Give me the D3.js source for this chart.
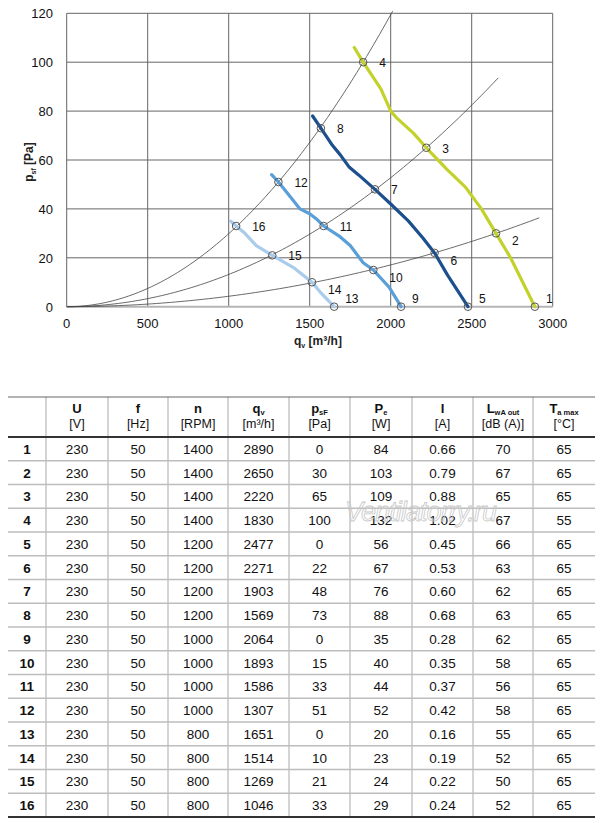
<!DOCTYPE html>
<html>
<head>
<meta charset="utf-8">
<script src="https://cdn.jsdelivr.net/npm/d3@7"></script>
<style>
  body { margin: 0; background: #fff; }
  svg { display: block; font-family: "Liberation Sans", Arial, sans-serif; }
</style>
</head>
<body>
<svg id="chart" width="600" height="823"></svg>
<script>
// operating points (table rows)
const pointNo = [1, 2, 3, 4, 5, 6, 7, 8, 9, 10, 11, 12, 13, 14, 15, 16];
const voltage = [230, 230, 230, 230, 230, 230, 230, 230, 230, 230, 230, 230, 230, 230, 230, 230];
const freq = [50, 50, 50, 50, 50, 50, 50, 50, 50, 50, 50, 50, 50, 50, 50, 50];
const rpm = [1400, 1400, 1400, 1400, 1200, 1200, 1200, 1200, 1000, 1000, 1000, 1000, 800, 800, 800, 800];
const airflow = [2890, 2650, 2220, 1830, 2477, 2271, 1903, 1569, 2064, 1893, 1586, 1307, 1651, 1514, 1269, 1046];
const pressure = [0, 30, 65, 100, 0, 22, 48, 73, 0, 15, 33, 51, 0, 10, 21, 33];
const power = [84, 103, 109, 132, 56, 67, 76, 88, 35, 40, 44, 52, 20, 23, 24, 29];
const current = ["0.66", "0.79", "0.88", "1.02", "0.45", "0.53", "0.60", "0.68", "0.28", "0.35", "0.37", "0.42", "0.16", "0.19", "0.22", "0.24"];
const noise = [70, 67, 65, 67, 66, 63, 62, 63, 62, 58, 56, 58, 55, 52, 50, 52];
const tempMax = [65, 65, 65, 55, 65, 65, 65, 65, 65, 65, 65, 65, 65, 65, 65, 65];

// fan curves [q, p]
const curve1400 = [[1775, 106], [1830, 100], [1940, 89], [2000, 80], [2040, 77], [2140, 71], [2220, 65], [2350, 56], [2460, 49], [2560, 40], [2650, 30], [2740, 20], [2890, 0]];
const curve1200 = [[1518, 78], [1569, 73], [1640, 66], [1690, 62], [1745, 57], [1800, 54], [1903, 48], [2000, 42], [2110, 35], [2200, 28], [2271, 22], [2350, 13], [2477, 0]];
const curve1000 = [[1265, 54], [1307, 51], [1380, 45], [1440, 40], [1500, 38], [1540, 36], [1586, 33], [1680, 29], [1750, 25], [1830, 18], [1893, 15], [1990, 8], [2064, 0]];
const curve800 = [[1012, 35], [1046, 33], [1100, 30], [1170, 25], [1269, 21], [1320, 19], [1400, 16], [1514, 10], [1565, 6], [1651, 0]];

// system curves p = k*q^2, with the q where each line stops
const systemK = [100 / 1830 / 1830, 65 / 2220 / 2220, 30 / 2650 / 2650];
const systemEnd = [2012, 2664, 2917];

const xTicks = [0, 500, 1000, 1500, 2000, 2500, 3000];
const yTicks = [0, 20, 40, 60, 80, 100, 120];

const svg = d3.select("#chart");
const x = d3.scaleLinear().domain([0, 3000]).range([66.7, 552.7]);
const y = d3.scaleLinear().domain([0, 120]).range([306.7, 13.3]);

// grid
svg.append("g").selectAll("line").data(xTicks).enter().append("line")
  .attr("x1", d => x(d)).attr("x2", d => x(d))
  .attr("y1", y(120)).attr("y2", y(0))
  .attr("stroke", "#666").attr("stroke-width", 1);
svg.append("g").selectAll("line").data(yTicks.filter(d => d > 0)).enter().append("line")
  .attr("x1", x(0)).attr("x2", x(3000))
  .attr("y1", d => y(d)).attr("y2", d => y(d))
  .attr("stroke", "#666").attr("stroke-width", 1);
svg.append("line")
  .attr("x1", x(0)).attr("x2", x(3000)).attr("y1", y(0)).attr("y2", y(0))
  .attr("stroke", "#b5b5b5").attr("stroke-width", 2);

// tick labels
svg.append("g").selectAll("text").data(xTicks).enter().append("text")
  .attr("x", d => x(d)).attr("y", 328)
  .attr("text-anchor", "middle").attr("font-size", 13).attr("fill", "#111")
  .text(d => d);
svg.append("g").selectAll("text").data(yTicks).enter().append("text")
  .attr("x", 53).attr("y", d => y(d) + 5)
  .attr("text-anchor", "end").attr("font-size", 13).attr("fill", "#111")
  .text(d => d);

// axis titles
const xt = svg.append("text").attr("x", 294).attr("y", 345)
  .attr("font-size", 12).attr("font-weight", "bold").attr("fill", "#222");
xt.append("tspan").text("q");
xt.append("tspan").attr("font-size", 7).attr("dy", 3).text("v");
xt.append("tspan").attr("dy", -3).text(" [m³/h]");

const yt = svg.append("text").attr("transform", "translate(33,162) rotate(-90)")
  .attr("text-anchor", "middle")
  .attr("font-size", 12).attr("font-weight", "bold").attr("fill", "#222");
yt.append("tspan").text("p");
yt.append("tspan").attr("font-size", 7).attr("dy", 3).text("sf");
yt.append("tspan").attr("dy", -3).text(" [Pa]");

// system curves
systemK.forEach((k, i) => {
  const pts = d3.range(0, 101).map(j => {
    const q = systemEnd[i] * j / 100;
    return [q, k * q * q];
  });
  svg.append("path")
    .attr("d", d3.line().x(d => x(d[0])).y(d => y(d[1]))(pts))
    .attr("fill", "none").attr("stroke", "#444").attr("stroke-width", 0.8);
});

// fan curves
const fanCurves = [
  { pts: curve1400, color: "#c3d22b" },
  { pts: curve1200, color: "#1b4f8e" },
  { pts: curve1000, color: "#5b9fd8" },
  { pts: curve800, color: "#a9cbec" }
];
const line = d3.line().x(d => x(d[0])).y(d => y(d[1])).curve(d3.curveLinear);
fanCurves.forEach(c => {
  svg.append("path").attr("d", line(c.pts))
    .attr("fill", "none").attr("stroke", c.color)
    .attr("stroke-width", 3.2).attr("stroke-linejoin", "round").attr("stroke-linecap", "round");
});

// operating point markers and labels
svg.append("g").selectAll("circle").data(pointNo).enter().append("circle")
  .attr("cx", (d, i) => x(airflow[i])).attr("cy", (d, i) => y(pressure[i]))
  .attr("r", 3.8).attr("fill", "none").attr("stroke", "#555").attr("stroke-width", 1);
svg.append("g").selectAll("text").data(pointNo).enter().append("text")
  .attr("x", (d, i) => x(airflow[i]) + (pressure[i] === 0 ? 11 : 16))
  .attr("y", (d, i) => y(pressure[i]) + (pressure[i] === 0 ? -4 : (i % 4 === 1 ? 12 : 5)))
  .attr("font-size", 12).attr("fill", "#111")
  .text(d => d);

// table
const colEdges = [8, 46, 108, 168, 228, 289, 350, 412, 473, 533, 595];
const tableTop = 397, headBottom = 437, rowH = 23.75;
const headers = [
  [["", ""]],
  [["U", ""]], [["f", ""]], [["n", ""]], [["q", "v"]], [["p", "sF"]],
  [["P", "e"]], [["I", ""]], [["L", "wA out"]], [["T", "a max"]]
];
const units = ["", "[V]", "[Hz]", "[RPM]", "[m³/h]", "[Pa]", "[W]", "[A]", "[dB (A)]", "[°C]"];
const columns = [pointNo, voltage, freq, rpm, airflow, pressure, power, current, noise, tempMax];
const tableBottom = headBottom + rowH * pointNo.length;

const tg = svg.append("g");
// row separators
pointNo.slice(0, -1).forEach((d, i) => {
  tg.append("line").attr("x1", colEdges[0]).attr("x2", colEdges[10])
    .attr("y1", headBottom + rowH * (i + 1)).attr("y2", headBottom + rowH * (i + 1))
    .attr("stroke", "#bdbdbd").attr("stroke-width", 1.3);
});
// column separators
colEdges.slice(1, -1).forEach(cx => {
  tg.append("line").attr("x1", cx).attr("x2", cx)
    .attr("y1", tableTop).attr("y2", tableBottom)
    .attr("stroke", "#bdbdbd").attr("stroke-width", 1.3);
});
tg.append("line").attr("x1", colEdges[0]).attr("x2", colEdges[10])
  .attr("y1", tableTop).attr("y2", tableTop).attr("stroke", "#666").attr("stroke-width", 1);
tg.append("line").attr("x1", colEdges[0]).attr("x2", colEdges[10])
  .attr("y1", headBottom).attr("y2", headBottom).attr("stroke", "#333").attr("stroke-width", 2);
tg.append("line").attr("x1", colEdges[0]).attr("x2", colEdges[10])
  .attr("y1", tableBottom).attr("y2", tableBottom).attr("stroke", "#333").attr("stroke-width", 2);

// header text
headers.forEach((h, c) => {
  const cx = (colEdges[c] + colEdges[c + 1]) / 2;
  const t = tg.append("text").attr("x", cx).attr("y", 413)
    .attr("text-anchor", "middle").attr("font-size", 13).attr("font-weight", "bold").attr("fill", "#111");
  t.append("tspan").text(h[0][0]);
  if (h[0][1]) t.append("tspan").attr("font-size", 7.5).attr("dy", 2).text(h[0][1]);
  tg.append("text").attr("x", cx).attr("y", 428)
    .attr("text-anchor", "middle").attr("font-size", 12.5).attr("fill", "#111")
    .text(units[c]);
});

// cell values
columns.forEach((col, c) => {
  const cx = (colEdges[c] + colEdges[c + 1]) / 2;
  tg.append("g").selectAll("text").data(col).enter().append("text")
    .attr("x", cx).attr("y", (d, r) => headBottom + rowH * r + rowH / 2 + 5)
    .attr("text-anchor", "middle").attr("font-size", 13.5)
    .attr("font-weight", c === 0 ? "bold" : "normal").attr("fill", "#111")
    .text(d => d);
});

// watermark
svg.append("text").attr("x", 345).attr("y", 521)
  .attr("font-size", 27).attr("font-style", "italic")
  .attr("fill", "none").attr("stroke", "#c8c8c8").attr("stroke-width", 0.8)
  .attr("textLength", 152)
  .text("Ventilatorry.ru");
</script>
</body>
</html>
